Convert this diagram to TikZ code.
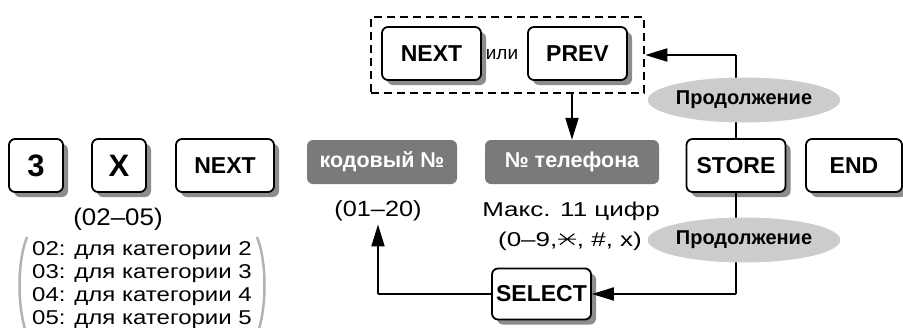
\documentclass[tikz,border=0pt]{standalone}
\usepackage{fontspec}
\usepackage{graphicx}
\setmainfont{Liberation Sans}
\usetikzlibrary{shadows,arrows.meta,shapes.geometric}
\newcommand{\starkey}{\tikz[baseline=0pt]{\draw[line width=1pt] (0pt,7pt)--(14pt,7pt) (1.5pt,1.5pt)--(12.5pt,12.5pt) (1.5pt,12.5pt)--(12.5pt,1.5pt);}}
\begin{document}
\begin{tikzpicture}[x=1pt,y=-1pt,
  keybox/.style={draw,line width=1.8pt,rounded corners=6pt,fill=white,
    font=\bfseries\fontsize{23}{23}\selectfont,inner sep=0pt,minimum height=53pt,
    drop shadow={shadow xshift=5pt,shadow yshift=-5pt,fill=black!45,opacity=1}},
  bigkey/.style={keybox,font=\bfseries\fontsize{31}{31}\selectfont,minimum width=54pt},
  graybox/.style={fill=black!52,rounded corners=6pt,text=white,inner sep=0pt,
    minimum height=44pt,font=\bfseries\fontsize{21.5}{21.5}\selectfont},
  contell/.style={ellipse,fill=black!20,inner sep=0pt,minimum width=166pt,minimum height=45pt,
    font=\bfseries\fontsize{20}{20}\selectfont},
  conn/.style={line width=2pt,-{Triangle[length=22pt,width=13pt]}},
  plain/.style={line width=2pt},
  lbl/.style={inner sep=0pt},
  paren/.style={draw=black!30,line width=2.5pt}
]
\useasboundingbox (0,0) rectangle (903,327);

% top row keys
\node[bigkey] (k3) at (36,165.5) {3};
\node[bigkey] (kx) at (119,165.5) {X};
\node[keybox,minimum width=98pt] (knext) at (225,165.5) {NEXT};
\node[keybox,minimum width=99pt] (store) at (736,165.5) {STORE};
\node[keybox,minimum width=96pt] (end) at (854,165.5) {END};

% gray boxes
\node[graybox,minimum width=150pt] (kod) at (382,162) {кодовый №};
\node[graybox,minimum width=174pt] (tel) at (572,162) {№ телефона};

% dashed group
\node[draw,dashed,dash pattern=on 8pt off 5pt,line width=2.5pt,minimum width=273pt,minimum height=76pt,inner sep=0pt] (grp) at (507.5,55) {};
\node[keybox,minimum width=99pt] (nnext) at (431.5,53.5) {NEXT};
\node[keybox,minimum width=99pt] (prev) at (577.5,53.5) {PREV};
\node[lbl,font=\fontsize{19}{19}\selectfont] (ili) at (502,55) {или};

% select
\node[keybox,minimum width=99pt,minimum height=51pt] (select) at (541.5,294) {SELECT};

% texts
\node[lbl,font=\fontsize{24}{24}\selectfont] (r0205) at (118,219) {\scalebox{1.08}[1]{(02–05)}};
\node[lbl,anchor=base west,font=\fontsize{20}{20}\selectfont] (l1) at (32,255) {\scalebox{1.2}[1]{02: для категории 2}};
\node[lbl,anchor=base west,font=\fontsize{20}{20}\selectfont] (l2) at (32,278) {\scalebox{1.2}[1]{03: для категории 3}};
\node[lbl,anchor=base west,font=\fontsize{20}{20}\selectfont] (l3) at (32,301) {\scalebox{1.2}[1]{04: для категории 4}};
\node[lbl,anchor=base west,font=\fontsize{20}{20}\selectfont] (l4) at (32,324) {\scalebox{1.2}[1]{05: для категории 5}};
\draw[paren] (27,237) .. controls (17,262) and (17,308) .. (27,335);
\draw[paren] (257,237) .. controls (267,262) and (267,308) .. (257,335);

\node[lbl,font=\fontsize{22}{22}\selectfont] (r0120) at (378,211) {\scalebox{1.15}[1]{(01–20)}};
\node[lbl,font=\fontsize{20}{20}\selectfont] (maks) at (571,211) {\scalebox{1.3}[1]{Макс. 11 цифр}};
\node[lbl,font=\fontsize{20}{20}\selectfont] (digs) at (570,241) {\scalebox{1.3}[1]{(0–9,\starkey, \#, x)}};

% connectors
\coordinate (topturn) at (store.north |- grp.east);
\coordinate (botturn) at (store.south |- select.east);
\coordinate (leftturn) at (r0120.south |- select.west);
\draw[plain] (store.north) -- (topturn);
\draw[conn] (topturn) -- (grp.east);
\draw[plain] (store.south) -- (botturn);
\draw[conn] (botturn) -- (select.east);
\draw[plain] (select.west) -- (leftturn);
\draw[conn] (leftturn) -- ([yshift=-3pt]r0120.south);
\draw[conn] (grp.south -| tel.north) -- (tel.north);

% continuation ellipses
\node[contell] (cont1) at (744,100) {Продолжение};
\node[contell] (cont2) at (744,240) {Продолжение};
\end{tikzpicture}
\end{document}
